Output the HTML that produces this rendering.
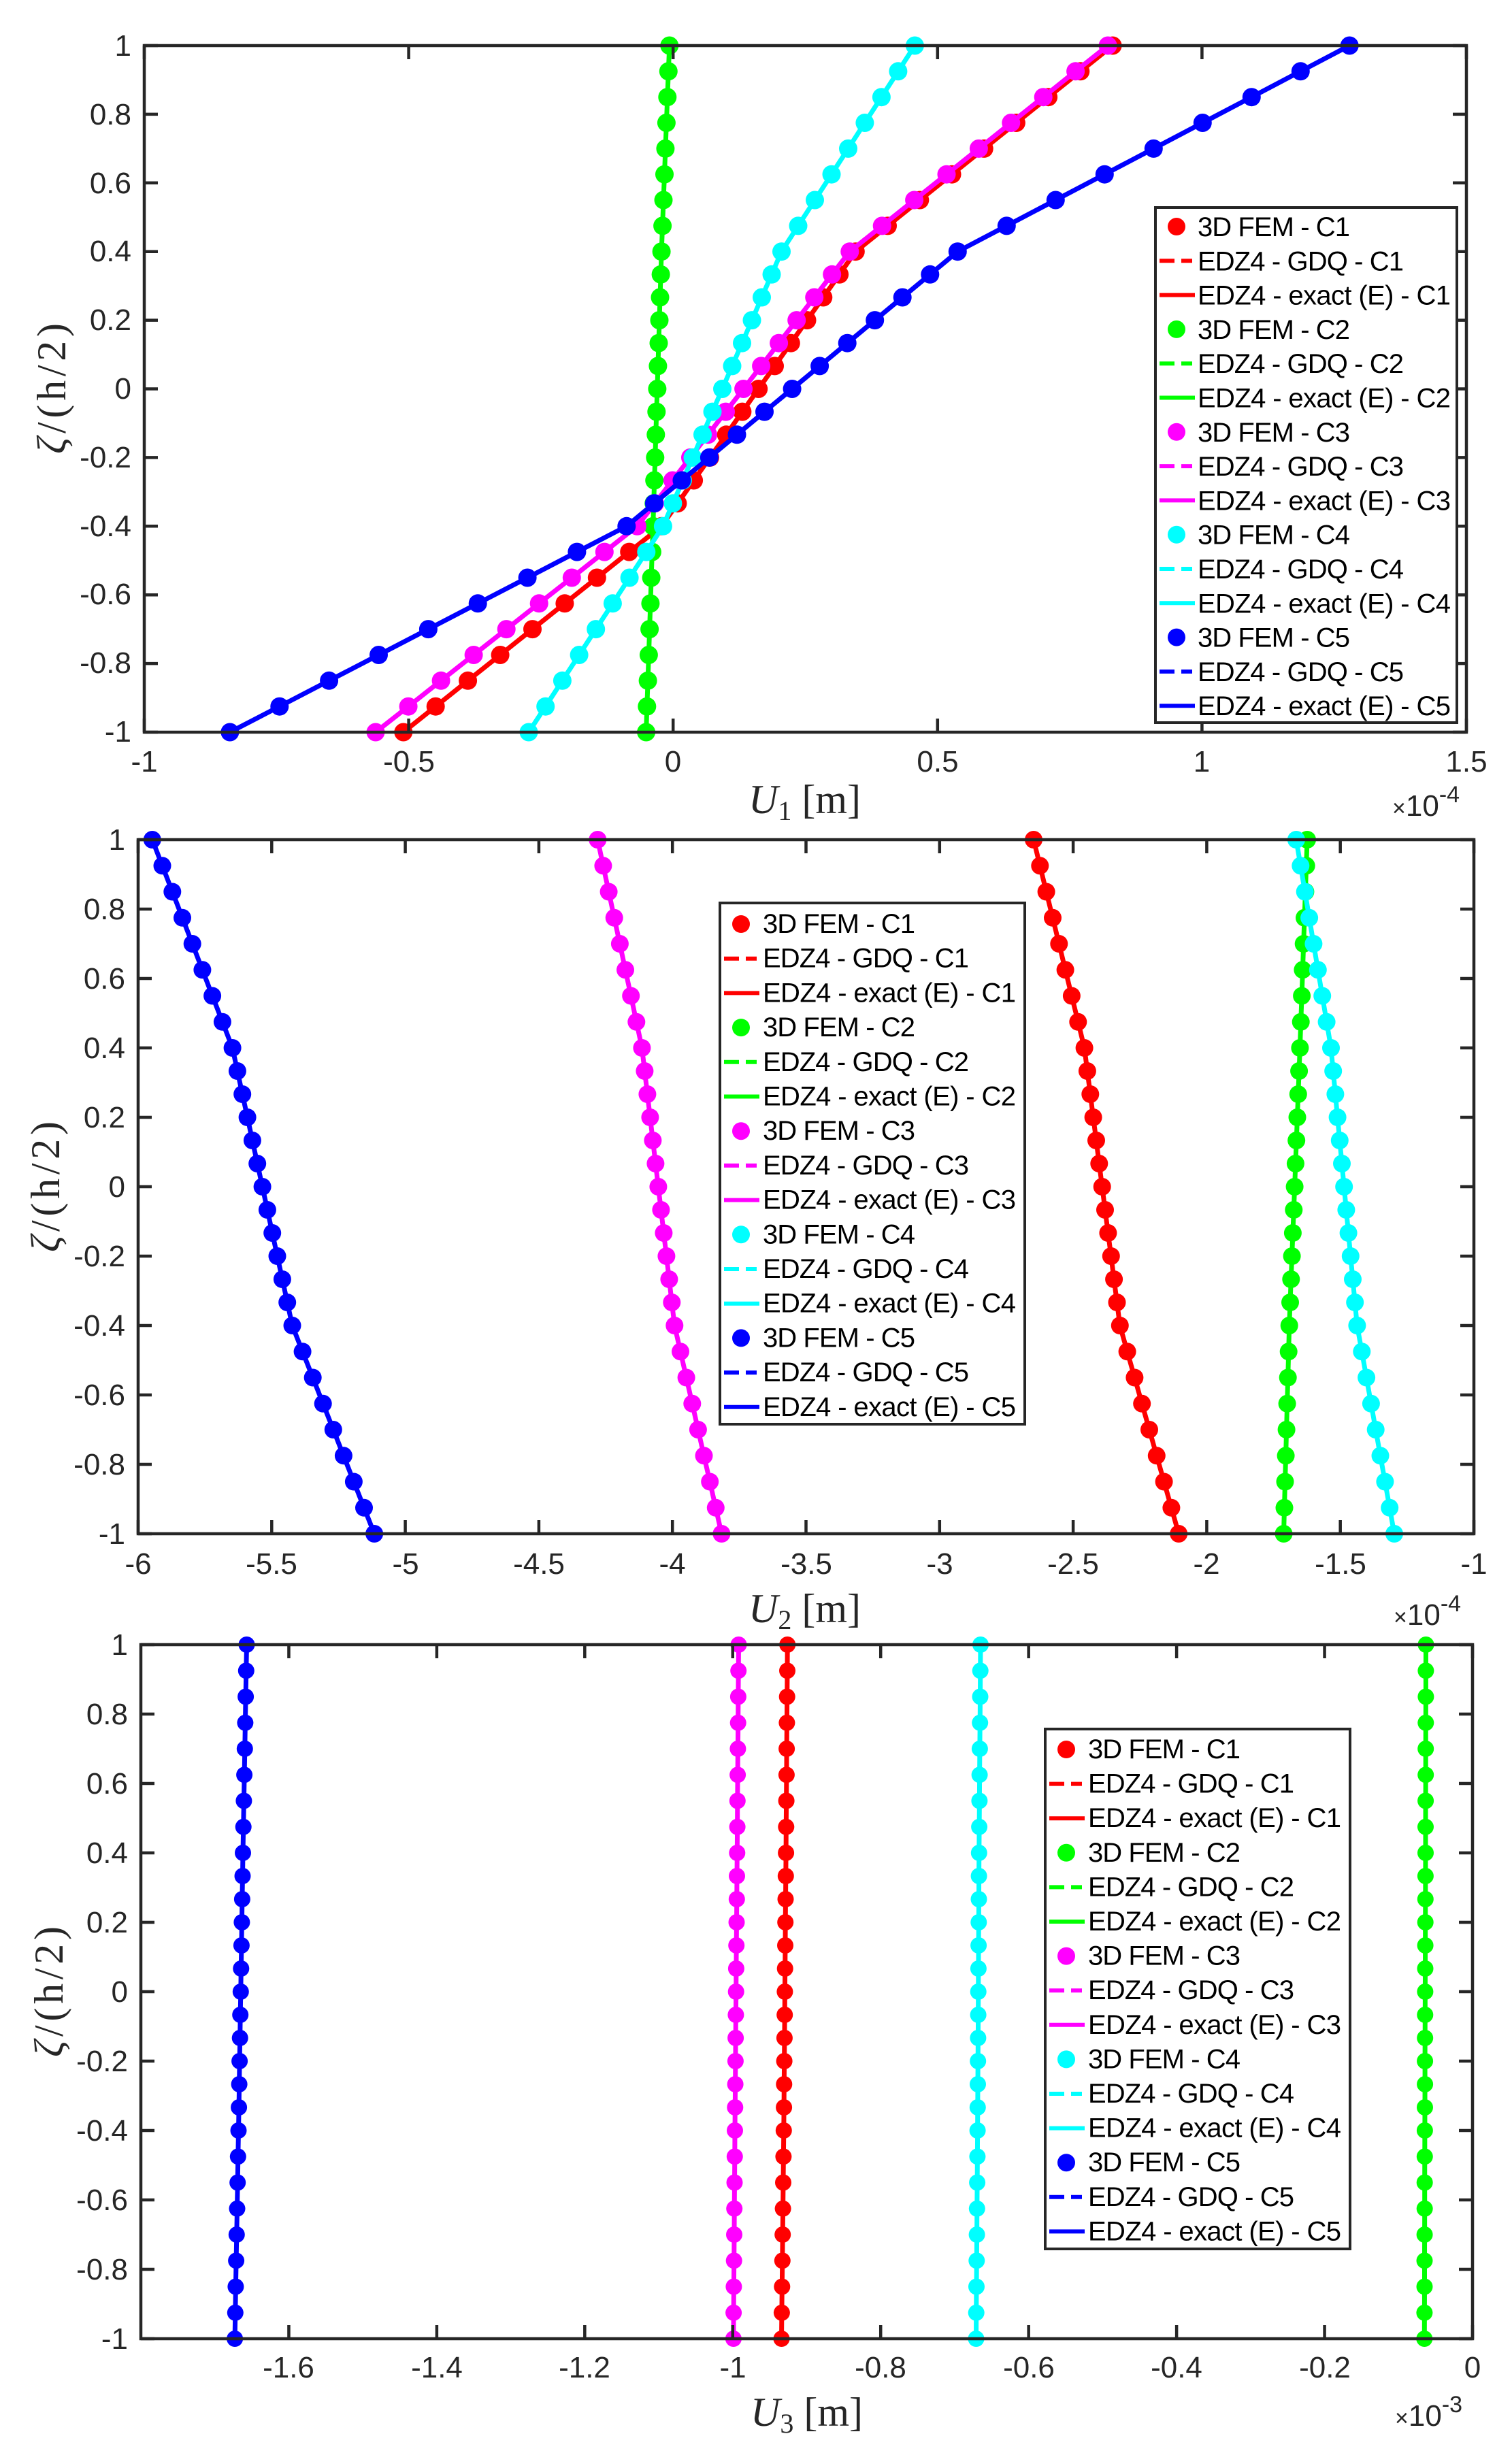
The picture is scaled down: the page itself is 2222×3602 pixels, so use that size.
<!DOCTYPE html>
<html><head><meta charset="utf-8"><style>
html,body{margin:0;padding:0;background:#fff}
svg{display:block}
.t{font-family:"Liberation Sans",Arial,sans-serif;font-size:44px;fill:#262626}
.l{font-family:"Liberation Sans",Arial,sans-serif;font-size:40px;fill:#000}
.s{font-family:"Liberation Serif",serif;font-size:60px;fill:#262626}
</style></head><body>
<svg id="svg" width="2222" height="3602" viewBox="0 0 2222 3602" xmlns="http://www.w3.org/2000/svg">
<rect width="2222" height="3602" fill="#fff"/>
<g id="data"></g>
<g id="axes"></g>
<g id="leg"></g>
<g id="txt">
<g class="t" text-anchor="end">
<text x="193" y="82">1</text><text x="193" y="183">0.8</text><text x="193" y="284">0.6</text><text x="193" y="384">0.4</text><text x="193" y="485">0.2</text><text x="193" y="586">0</text><text x="193" y="687">-0.2</text><text x="193" y="788">-0.4</text><text x="193" y="888">-0.6</text><text x="193" y="989">-0.8</text><text x="193" y="1090">-1</text>
</g>
<g class="t" text-anchor="middle">
<text x="212" y="1134">-1</text><text x="601" y="1134">-0.5</text><text x="989" y="1134">0</text><text x="1378" y="1134">0.5</text><text x="1766" y="1134">1</text><text x="2155" y="1134">1.5</text>
</g>
<text class="s" transform="translate(96,571) rotate(-90)" text-anchor="middle" textLength="192"><tspan font-style="italic">ζ</tspan>/(h/2)</text>
<text class="s" x="1100" y="1195" textLength="165"><tspan font-style="italic">U</tspan><tspan font-size="40" dy="10">1</tspan><tspan dy="-10">  [m]</tspan></text>
<text class="t" x="2046" y="1199" font-size="40"><tspan font-size="34">×</tspan>10<tspan font-size="34" dy="-20">-4</tspan></text>

<g class="t" text-anchor="end">
<text x="184" y="1249">1</text><text x="184" y="1351">0.8</text><text x="184" y="1453">0.6</text><text x="184" y="1555">0.4</text><text x="184" y="1657">0.2</text><text x="184" y="1759">0</text><text x="184" y="1861">-0.2</text><text x="184" y="1963">-0.4</text><text x="184" y="2065">-0.6</text><text x="184" y="2167">-0.8</text><text x="184" y="2269">-1</text>
</g>
<g class="t" text-anchor="middle">
<text x="203" y="2313">-6</text><text x="399" y="2313">-5.5</text><text x="596" y="2313">-5</text><text x="792" y="2313">-4.5</text><text x="988" y="2313">-4</text><text x="1185" y="2313">-3.5</text><text x="1381" y="2313">-3</text><text x="1577" y="2313">-2.5</text><text x="1773" y="2313">-2</text><text x="1970" y="2313">-1.5</text><text x="2166" y="2313">-1</text>
</g>
<text class="s" transform="translate(87,1744) rotate(-90)" text-anchor="middle" textLength="192"><tspan font-style="italic">ζ</tspan>/(h/2)</text>
<text class="s" x="1100" y="2384" textLength="165"><tspan font-style="italic">U</tspan><tspan font-size="40" dy="10">2</tspan><tspan dy="-10">  [m]</tspan></text>
<text class="t" x="2048" y="2388" font-size="40"><tspan font-size="34">×</tspan>10<tspan font-size="34" dy="-20">-4</tspan></text>

<g class="t" text-anchor="end">
<text x="188" y="2432">1</text><text x="188" y="2534">0.8</text><text x="188" y="2636">0.6</text><text x="188" y="2738">0.4</text><text x="188" y="2840">0.2</text><text x="188" y="2942">0</text><text x="188" y="3044">-0.2</text><text x="188" y="3146">-0.4</text><text x="188" y="3248">-0.6</text><text x="188" y="3350">-0.8</text><text x="188" y="3452">-1</text>
</g>
<g class="t" text-anchor="middle">
<text x="424" y="3494">-1.6</text><text x="642" y="3494">-1.4</text><text x="859" y="3494">-1.2</text><text x="1077" y="3494">-1</text><text x="1294" y="3494">-0.8</text><text x="1512" y="3494">-0.6</text><text x="1729" y="3494">-0.4</text><text x="1947" y="3494">-0.2</text><text x="2164" y="3494">0</text>
</g>
<text class="s" transform="translate(92,2927) rotate(-90)" text-anchor="middle" textLength="192"><tspan font-style="italic">ζ</tspan>/(h/2)</text>
<text class="s" x="1103" y="3565" textLength="165"><tspan font-style="italic">U</tspan><tspan font-size="40" dy="10">3</tspan><tspan dy="-10">  [m]</tspan></text>
<text class="t" x="2050" y="3565" font-size="40"><tspan font-size="34">×</tspan>10<tspan font-size="34" dy="-20">-3</tspan></text>
</g>
<g id="legtxt" class="l">
<g transform="translate(1760,347)">
<text y="0" textLength="224">3D FEM - C1</text><text y="50.3" textLength="303">EDZ4 - GDQ - C1</text><text y="100.6" textLength="372">EDZ4 - exact (E) - C1</text>
<text y="150.9" textLength="224">3D FEM - C2</text><text y="201.2" textLength="303">EDZ4 - GDQ - C2</text><text y="251.5" textLength="372">EDZ4 - exact (E) - C2</text>
<text y="301.8" textLength="224">3D FEM - C3</text><text y="352.1" textLength="303">EDZ4 - GDQ - C3</text><text y="402.4" textLength="372">EDZ4 - exact (E) - C3</text>
<text y="452.7" textLength="224">3D FEM - C4</text><text y="503" textLength="303">EDZ4 - GDQ - C4</text><text y="553.3" textLength="372">EDZ4 - exact (E) - C4</text>
<text y="603.6" textLength="224">3D FEM - C5</text><text y="653.9" textLength="303">EDZ4 - GDQ - C5</text><text y="704.2" textLength="372">EDZ4 - exact (E) - C5</text>
</g>
<g transform="translate(1121,1371)">
<text y="0" textLength="224">3D FEM - C1</text><text y="50.7" textLength="303">EDZ4 - GDQ - C1</text><text y="101.4" textLength="372">EDZ4 - exact (E) - C1</text>
<text y="152.1" textLength="224">3D FEM - C2</text><text y="202.8" textLength="303">EDZ4 - GDQ - C2</text><text y="253.5" textLength="372">EDZ4 - exact (E) - C2</text>
<text y="304.2" textLength="224">3D FEM - C3</text><text y="354.9" textLength="303">EDZ4 - GDQ - C3</text><text y="405.6" textLength="372">EDZ4 - exact (E) - C3</text>
<text y="456.3" textLength="224">3D FEM - C4</text><text y="507" textLength="303">EDZ4 - GDQ - C4</text><text y="557.7" textLength="372">EDZ4 - exact (E) - C4</text>
<text y="608.4" textLength="224">3D FEM - C5</text><text y="659.1" textLength="303">EDZ4 - GDQ - C5</text><text y="709.8" textLength="372">EDZ4 - exact (E) - C5</text>
</g>
<g transform="translate(1599,2584)">
<text y="0" textLength="224">3D FEM - C1</text><text y="50.6" textLength="303">EDZ4 - GDQ - C1</text><text y="101.2" textLength="372">EDZ4 - exact (E) - C1</text>
<text y="151.8" textLength="224">3D FEM - C2</text><text y="202.4" textLength="303">EDZ4 - GDQ - C2</text><text y="253" textLength="372">EDZ4 - exact (E) - C2</text>
<text y="303.6" textLength="224">3D FEM - C3</text><text y="354.2" textLength="303">EDZ4 - GDQ - C3</text><text y="404.8" textLength="372">EDZ4 - exact (E) - C3</text>
<text y="455.4" textLength="224">3D FEM - C4</text><text y="506" textLength="303">EDZ4 - GDQ - C4</text><text y="556.6" textLength="372">EDZ4 - exact (E) - C4</text>
<text y="607.2" textLength="224">3D FEM - C5</text><text y="657.8" textLength="303">EDZ4 - GDQ - C5</text><text y="708.4" textLength="372">EDZ4 - exact (E) - C5</text>
</g>
</g>
</svg>
<script>
(function(){
var NS="http://www.w3.org/2000/svg";
function el(p,n,a){var e=document.createElementNS(NS,n);for(var k in a)e.setAttribute(k,a[k]);p.appendChild(e);return e;}
var C=["#ff0000","#00ff00","#ff00ff","#00ffff","#0000ff"];
var Z=[];for(var k=0;k<=8;k++)Z.push(1-0.075*k);for(k=1;k<=12;k++)Z.push(0.4-k*0.8/12);for(k=1;k<=8;k++)Z.push(-0.4-0.075*k);
function val(s,z){
 if(z<=-0.4)return s[0]+(s[1]-s[0])*(z+1)/0.6;
 if(z<=0.4)return s[1]+(s[2]-s[1])*(z+0.4)/0.8;
 return s[2]+(s[3]-s[2])*(z-0.4)/0.6;}
var P=[
 {L:212,R:2155,T:67,B:1076,x0:-1,x1:1.5,xt:[-1,-0.5,0,0.5,1,1.5],r:13.5,
  s:[[-0.51,-0.022,0.345,0.831],[-0.051,-0.038,-0.022,-0.007],[-0.5625,-0.068,0.334,0.822],[-0.273,-0.019,0.205,0.457],[-0.838,-0.088,0.538,1.279]]},
 {L:203,R:2166,T:1234,B:2254,x0:-6,x1:-1,xt:[-6,-5.5,-5,-4.5,-4,-3.5,-3,-2.5,-2,-1.5,-1],r:13,
  s:[[-2.105,-2.325,-2.458,-2.648],[-1.712,-1.691,-1.651,-1.624],[-3.816,-3.992,-4.114,-4.280],[-1.298,-1.437,-1.535,-1.665],[-5.116,-5.423,-5.647,-5.947]]},
 {L:207,R:2164,T:2417,B:3437,x0:-1.8,x1:0,xt:[-1.6,-1.4,-1.2,-1,-0.8,-0.6,-0.4,-0.2,0],r:12,
  s:[[-0.934,-0.931,-0.928,-0.926],[-0.065,-0.0645,-0.0635,-0.063],[-0.999,-0.997,-0.994,-0.992],[-0.671,-0.669,-0.667,-0.665],[-1.673,-1.668,-1.662,-1.657]]}
];
var D=document.getElementById("data"),A=document.getElementById("axes"),G=document.getElementById("leg");
P.forEach(function(p){
 function X(v){return p.L+(v-p.x0)/(p.x1-p.x0)*(p.R-p.L);}
 function Y(z){return p.T+(1-z)/2*(p.B-p.T);}
 p.s.forEach(function(s,i){
  var pts=Z.map(function(z){return [X(val(s,z)),Y(z)];});
  el(D,"polyline",{points:pts.map(function(q){return q[0].toFixed(1)+","+q[1].toFixed(1)}).join(" "),fill:"none",stroke:C[i],"stroke-width":7,"stroke-linejoin":"round"});
  pts.forEach(function(q){el(D,"circle",{cx:q[0].toFixed(1),cy:q[1].toFixed(1),r:p.r,fill:C[i]});});
 });
 el(A,"rect",{x:p.L,y:p.T,width:p.R-p.L,height:p.B-p.T,fill:"none",stroke:"#262626","stroke-width":4.5});
 p.xt.forEach(function(v){var x=X(v);el(A,"line",{x1:x,y1:p.B,x2:x,y2:p.B-20,stroke:"#262626","stroke-width":4.5});el(A,"line",{x1:x,y1:p.T,x2:x,y2:p.T+20,stroke:"#262626","stroke-width":4.5});});
 for(var z=-1;z<=1.001;z+=0.2){var y=Y(z);el(A,"line",{x1:p.L,y1:y,x2:p.L+20,y2:y,stroke:"#262626","stroke-width":4.5});el(A,"line",{x1:p.R,y1:y,x2:p.R-20,y2:y,stroke:"#262626","stroke-width":4.5});}
});
var LG=[{x:1698,y:305,w:443,h:757,r0:333,st:50.3},{x:1058,y:1327,w:448,h:766,r0:1358,st:50.7},{x:1536,y:2541,w:448,h:764,r0:2571,st:50.6}];
LG.forEach(function(g){
 el(G,"rect",{x:g.x,y:g.y,width:g.w,height:g.h,fill:"#fff",stroke:"#262626","stroke-width":4});
 for(var i=0;i<5;i++){
  var y1=g.r0+g.st*3*i;
  el(G,"circle",{cx:g.x+31,cy:y1,r:13,fill:C[i]});
  var y2=y1+g.st;
  el(G,"line",{x1:g.x+6,y1:y2,x2:g.x+54,y2:y2,stroke:C[i],"stroke-width":6,"stroke-dasharray":"22,10"});
  var y3=y1+2*g.st;
  el(G,"line",{x1:g.x+6,y1:y3,x2:g.x+58,y2:y3,stroke:C[i],"stroke-width":6});
 }
});
})();
</script>
</body></html>
